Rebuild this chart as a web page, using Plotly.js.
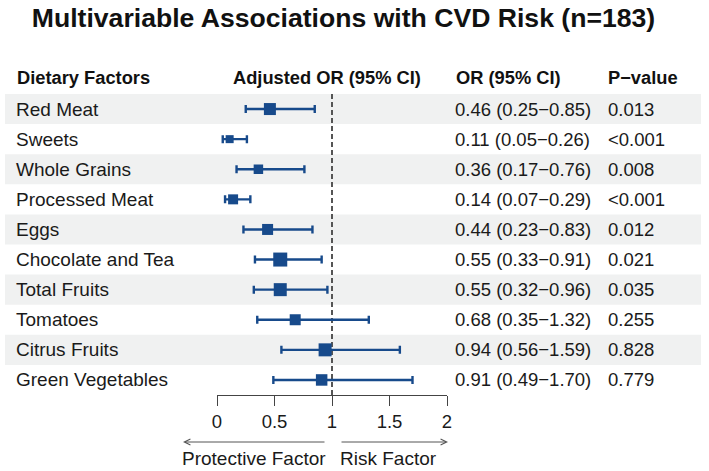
<!DOCTYPE html>
<html>
<head>
<meta charset="utf-8">
<script src="https://cdn.plot.ly/plotly-3.0.1.min.js"></script>
<style>html,body{margin:0;padding:0;background:#fff;}#chart{width:709px;height:471px;}</style>
</head>
<body>
<div id="chart"></div>
<script>
// ---- data ----
const factors = ["Red Meat","Sweets","Whole Grains","Processed Meat","Eggs","Chocolate and Tea","Total Fruits","Tomatoes","Citrus Fruits","Green Vegetables"];
const orValues = [0.46,0.11,0.36,0.14,0.44,0.55,0.55,0.68,0.94,0.91];
const ciLower  = [0.25,0.05,0.17,0.07,0.23,0.33,0.32,0.35,0.56,0.49];
const ciUpper  = [0.85,0.26,0.76,0.29,0.83,0.91,0.96,1.32,1.59,1.70];
const pValues  = ["0.013","<0.001","0.008","<0.001","0.012","0.021","0.035","0.255","0.828","0.779"];
const tickVals = [0,0.5,1,1.5,2];
const tickText = ["0","0.5","1","1.5","2"];
const headers = ["Dietary Factors","Adjusted OR (95% CI)","OR (95% CI)","P\u2212value"];

// ---- styling ----
const W = 709, H = 471;
const FONT = "Liberation Sans, Arial, sans-serif";
const BLUE = "#174a8b";
const weightSizes = [12,8,9.5,10,11,14,13,11,13,11.5];
const px = v => v / W;
const py = v => 1 - v / H;

const rowIdx = factors.map((_, i) => i);

const trace = {
  type: "scatter",
  mode: "markers",
  x: orValues,
  y: rowIdx,
  marker: {symbol: "square", size: weightSizes, color: BLUE, opacity: 1, line: {width: 0}},
  error_x: {
    type: "data", symmetric: false,
    array: orValues.map((v, i) => ciUpper[i] - v),
    arrayminus: orValues.map((v, i) => v - ciLower[i]),
    color: BLUE, thickness: 2.4, width: 4
  },
  hoverinfo: "skip",
  cliponaxis: false
};

const shapes = [];
rowIdx.forEach(i => {
  if (i % 2 === 0) {
    shapes.push({type: "rect", xref: "paper", yref: "y", x0: px(5), x1: px(701), y0: i - 0.5, y1: i + 0.5,
      fillcolor: "#f0f1f1", line: {width: 0}, layer: "below"});
  }
});
shapes.push({type: "line", xref: "x", yref: "y", x0: 1, x1: 1, y0: -0.5, y1: 9.5,
  line: {color: "#555", width: 2, dash: "5px,3px"}, layer: "below"});

const annotations = [];
const txt = {family: FONT, size: 19, color: "#1a1a1a"};
const num = {family: FONT, size: 18.5, color: "#1a1a1a"};
const bold = {family: FONT, size: 18.3, color: "#111"};
annotations.push({xref: "paper", yref: "paper", x: px(15), y: py(78), xanchor: "left", yanchor: "middle", text: "<b>" + headers[0] + "</b>", showarrow: false, font: bold});
annotations.push({xref: "paper", yref: "paper", x: px(327), y: py(78), xanchor: "center", yanchor: "middle", text: "<b>" + headers[1] + "</b>", showarrow: false, font: bold});
annotations.push({xref: "paper", yref: "paper", x: px(454), y: py(78), xanchor: "left", yanchor: "middle", text: "<b>" + headers[2] + "</b>", showarrow: false, font: bold});
annotations.push({xref: "paper", yref: "paper", x: px(606), y: py(78), xanchor: "left", yanchor: "middle", text: "<b>" + headers[3] + "</b>", showarrow: false, font: bold});

rowIdx.forEach(i => {
  annotations.push({xref: "paper", yref: "y", x: px(14), y: i, xanchor: "left", yanchor: "middle", text: factors[i], showarrow: false, font: txt});
  annotations.push({xref: "paper", yref: "y", x: px(453), y: i, xanchor: "left", yanchor: "middle",
    text: orValues[i].toFixed(2) + " (" + ciLower[i].toFixed(2) + "\u2212" + ciUpper[i].toFixed(2) + ")", showarrow: false, font: num});
  annotations.push({xref: "paper", yref: "y", x: px(606), y: i, xanchor: "left", yanchor: "middle", text: pValues[i].replace("<", "&lt;"), showarrow: false, font: num});
});

// direction arrows
annotations.push({xref: "paper", yref: "paper", x: px(183), y: py(442), ax: 143, ay: 0, axref: "pixel", ayref: "pixel",
  text: "", showarrow: true, arrowhead: 5, arrowsize: 1.2, arrowwidth: 1, arrowcolor: "#555", standoff: 0, startstandoff: 0});
annotations.push({xref: "paper", yref: "paper", x: px(448), y: py(442), ax: -108, ay: 0, axref: "pixel", ayref: "pixel",
  text: "", showarrow: true, arrowhead: 5, arrowsize: 1.2, arrowwidth: 1, arrowcolor: "#555", standoff: 0, startstandoff: 0});
annotations.push({xref: "paper", yref: "paper", x: px(254), y: py(458), xanchor: "center", yanchor: "middle", text: "Protective Factor", showarrow: false, font: txt});
annotations.push({xref: "paper", yref: "paper", x: px(388), y: py(458), xanchor: "center", yanchor: "middle", text: "Risk Factor", showarrow: false, font: txt});

const layout = {
  width: W, height: H,
  margin: {l: 0, r: 0, t: 0, b: 0},
  paper_bgcolor: "#fff", plot_bgcolor: "rgba(0,0,0,0)",
  showlegend: false,
  title: {text: "<b>Multivariable Associations with CVD Risk (n=183)</b>", x: px(343.5), xanchor: "center",
    y: py(18), yanchor: "middle", yref: "container", font: {family: FONT, size: 26.6, color: "#111"}},
  xaxis: {domain: [px(217), px(447)], range: [0, 2], tickvals: tickVals, ticktext: tickText,
    ticks: "outside", ticklen: 10, tickwidth: 1, tickcolor: "#444", showline: true, linecolor: "#444", linewidth: 1,
    showgrid: false, zeroline: false, fixedrange: true, tickfont: {family: FONT, size: 18.5, color: "#1a1a1a"}},
  yaxis: {domain: [py(395), py(94)], range: [9.5, -0.5], showgrid: false, zeroline: false, showline: false,
    showticklabels: false, ticks: "", fixedrange: true},
  shapes: shapes,
  annotations: annotations
};

Plotly.newPlot("chart", [trace], layout, {displayModeBar: false, staticPlot: true});
</script>
</body>
</html>
